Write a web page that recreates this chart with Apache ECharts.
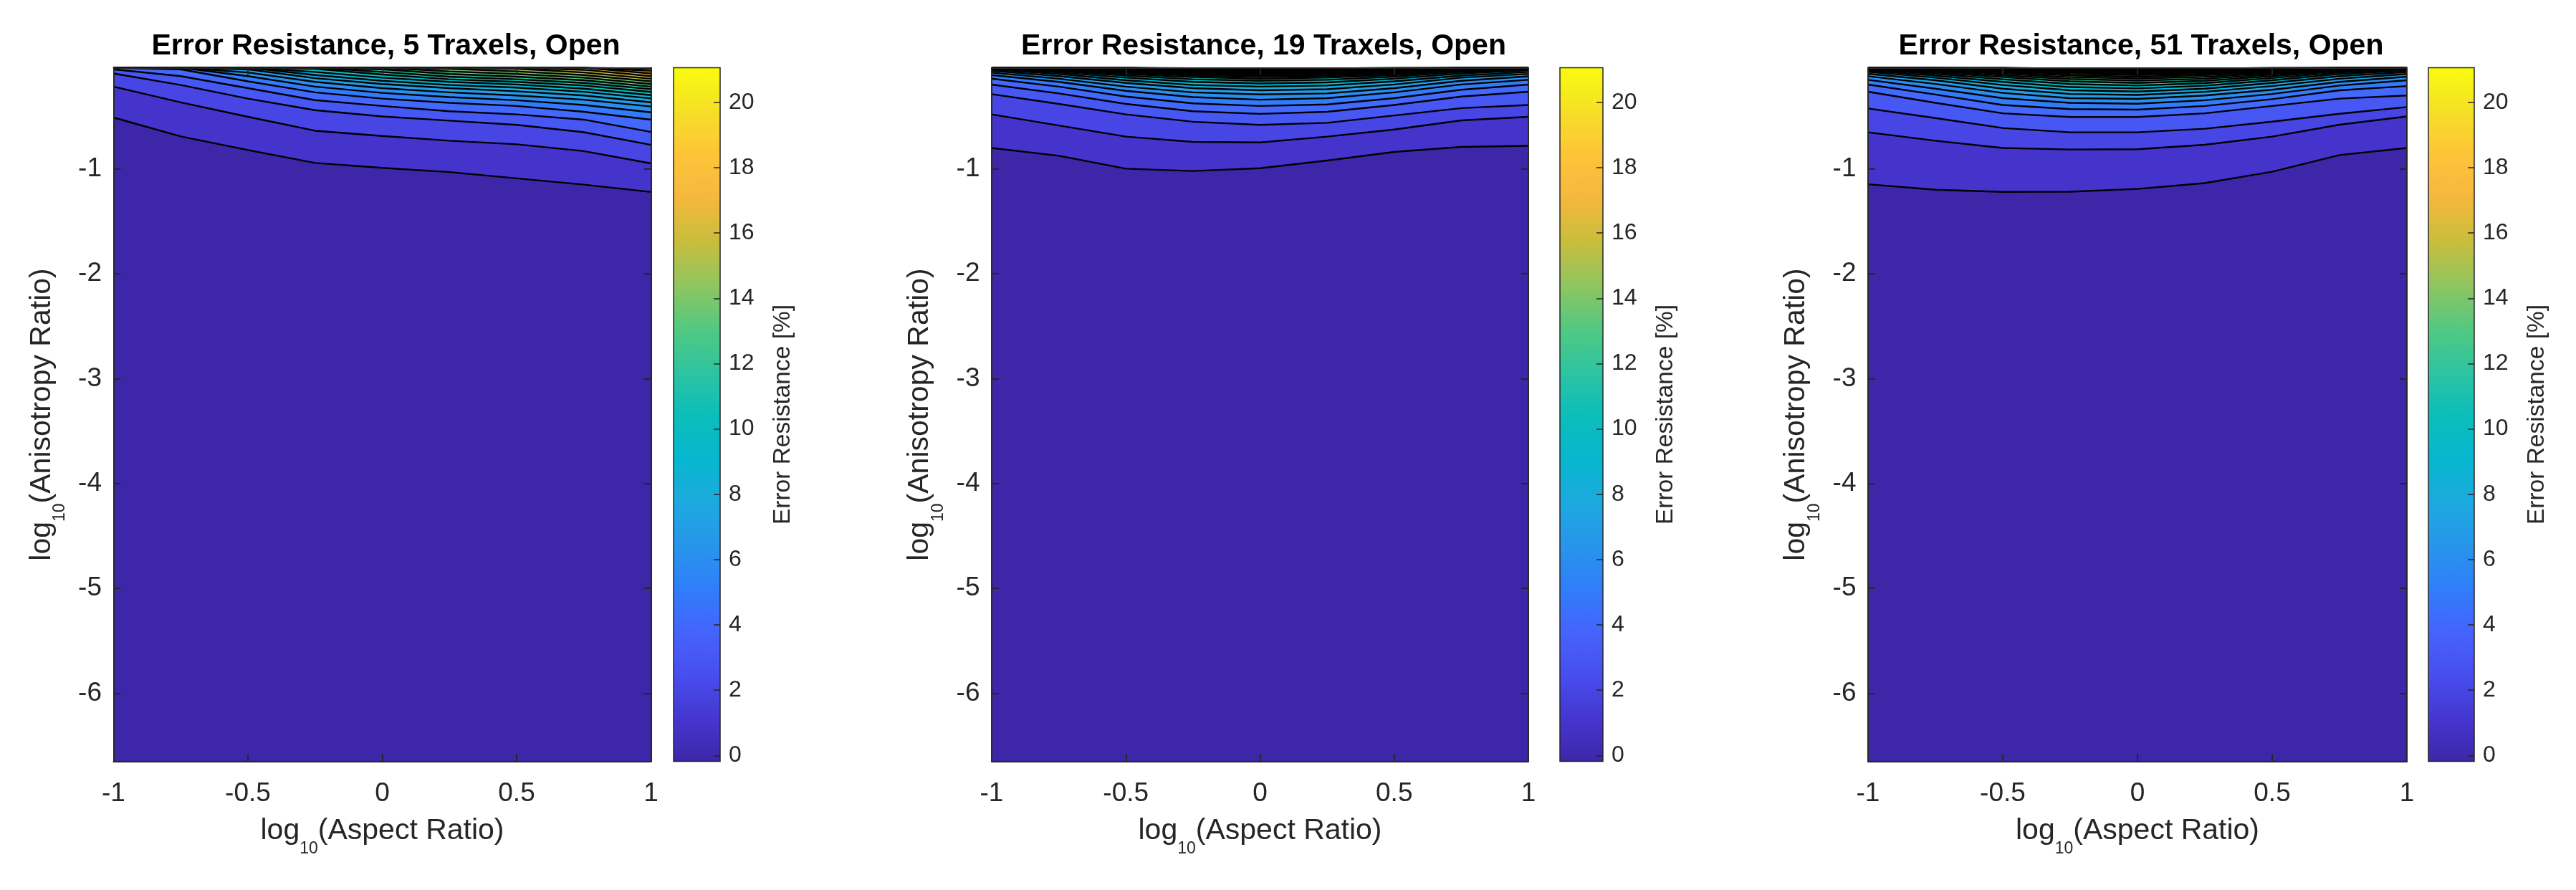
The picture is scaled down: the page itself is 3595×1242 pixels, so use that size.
<!DOCTYPE html>
<html><head><meta charset="utf-8">
<script src="https://cdn.jsdelivr.net/npm/echarts@6/dist/echarts.min.js"></script>
<style>html,body{margin:0;padding:0;background:#fff}#c{width:3595px;height:1242px}</style>
</head><body><div id="c"></div>
<script>
// ---------------- data ----------------
const T = -0.035;                 // top edge of the data range (log10 anisotropy ratio)
const yRange = [-6.65, -0.035];   // y data range
const xRange = [-1, 1];
const xs = [-1, -0.75, -0.5, -0.25, 0, 0.25, 0.5, 0.75, 1];
const levels = [1,2,3,4,5,6,7,8,9,10,11,12,13,14,15,16,17,18,19,20,21];
const xTicks = [-1, -0.5, 0, 0.5, 1];
const yTicks = [-6, -5, -4, -3, -2, -1];
const cbTicks = [0, 2, 4, 6, 8, 10, 12, 14, 16, 18, 20];
const cbRange = [-0.18, 21.06];
const titles = ['Error Resistance, 5 Traxels, Open', 'Error Resistance, 19 Traxels, Open', 'Error Resistance, 51 Traxels, Open'];

// y position of each contour level (rows = levels 1..n) at each xs column
const p1Lines = [
  [-0.51, -0.69, -0.82, -0.943, -0.99, -1.03, -1.09, -1.15, -1.22],
  [-0.215, -0.366, -0.503, -0.636, -0.686, -0.731, -0.765, -0.83, -0.947],
  [-0.09, -0.2, -0.33, -0.44, -0.5, -0.54, -0.58, -0.65, -0.77],
  [-0.05, -0.115, -0.23, -0.344, -0.4, -0.45, -0.48, -0.53, -0.647],
  [T, -0.05, -0.165, -0.27, -0.33, -0.37, -0.4, -0.455, -0.53],
  [T, T, -0.115, -0.215, -0.275, -0.315, -0.345, -0.39, -0.46],
  [T, T, -0.08, -0.17, -0.23, -0.27, -0.3, -0.34, -0.405],
  [T, T, -0.05, -0.135, -0.19, -0.23, -0.26, -0.3, -0.365],
  [T, T, T, -0.105, -0.16, -0.2, -0.225, -0.265, -0.328],
  [T, T, T, -0.075, -0.13, -0.17, -0.195, -0.235, -0.296],
  [T, T, T, -0.045, -0.1, -0.145, -0.17, -0.205, -0.266],
  [T, T, T, T, -0.075, -0.12, -0.145, -0.18, -0.239],
  [T, T, T, T, -0.05, -0.095, -0.12, -0.155, -0.215],
  [T, T, T, T, T, -0.07, -0.095, -0.13, -0.19],
  [T, T, T, T, T, -0.045, -0.07, -0.105, -0.165],
  [T, T, T, T, T, T, -0.045, -0.08, -0.14],
  [T, T, T, T, T, T, T, -0.055, -0.115],
  [T, T, T, T, T, T, T, T, -0.09],
  [T, T, T, T, T, T, T, T, -0.065],
  [T, T, T, T, T, T, T, T, -0.045]
];
const p2Lines = [
  [-0.80, -0.875, -0.998, -1.02, -0.993, -0.92, -0.838, -0.79, -0.78],
  [-0.48, -0.586, -0.692, -0.742, -0.747, -0.692, -0.624, -0.537, -0.503],
  [-0.287, -0.38, -0.48, -0.55, -0.58, -0.56, -0.49, -0.42, -0.39],
  [-0.196, -0.28, -0.38, -0.45, -0.475, -0.455, -0.39, -0.31, -0.264],
  [-0.139, -0.215, -0.31, -0.375, -0.40, -0.385, -0.325, -0.245, -0.196],
  [-0.105, -0.17, -0.255, -0.315, -0.34, -0.325, -0.27, -0.195, -0.15],
  [-0.082, -0.14, -0.215, -0.27, -0.29, -0.28, -0.23, -0.16, -0.117],
  [-0.064, -0.115, -0.18, -0.23, -0.25, -0.24, -0.195, -0.13, -0.094],
  [-0.05, -0.095, -0.155, -0.2, -0.215, -0.205, -0.165, -0.11, -0.075],
  [-0.04, -0.08, -0.13, -0.17, -0.185, -0.175, -0.14, -0.09, -0.06],
  [T, -0.068, -0.11, -0.145, -0.16, -0.15, -0.12, -0.075, -0.05],
  [T, -0.058, -0.095, -0.125, -0.14, -0.13, -0.105, -0.063, -0.042],
  [T, -0.05, -0.082, -0.11, -0.125, -0.115, -0.092, -0.055, T],
  [T, -0.043, -0.072, -0.097, -0.112, -0.103, -0.082, -0.048, T],
  [T, T, -0.063, -0.086, -0.1, -0.092, -0.073, -0.042, T],
  [T, T, -0.055, -0.076, -0.089, -0.082, -0.065, T, T],
  [T, T, -0.048, -0.067, -0.079, -0.073, -0.058, T, T],
  [T, T, -0.042, -0.059, -0.07, -0.065, -0.051, T, T],
  [T, T, T, -0.052, -0.062, -0.057, -0.045, T, T],
  [T, T, T, -0.045, -0.054, -0.05, -0.04, T, T],
  [T, T, T, -0.04, -0.047, -0.044, T, T, T]
];
const p3Lines = [
  [-1.146, -1.198, -1.219, -1.217, -1.191, -1.135, -1.027, -0.868, -0.80],
  [-0.651, -0.731, -0.80, -0.815, -0.812, -0.77, -0.692, -0.578, -0.50],
  [-0.424, -0.515, -0.61, -0.651, -0.651, -0.617, -0.549, -0.474, -0.41],
  [-0.264, -0.37, -0.47, -0.505, -0.505, -0.47, -0.40, -0.33, -0.30],
  [-0.196, -0.29, -0.39, -0.43, -0.435, -0.40, -0.335, -0.25, -0.21],
  [-0.15, -0.235, -0.325, -0.37, -0.378, -0.345, -0.285, -0.205, -0.155],
  [-0.116, -0.19, -0.275, -0.325, -0.332, -0.30, -0.245, -0.17, -0.12],
  [-0.093, -0.155, -0.235, -0.285, -0.295, -0.265, -0.21, -0.14, -0.095],
  [-0.075, -0.13, -0.2, -0.25, -0.262, -0.235, -0.18, -0.115, -0.077],
  [-0.062, -0.11, -0.17, -0.22, -0.232, -0.207, -0.155, -0.095, -0.063],
  [-0.05, -0.093, -0.145, -0.19, -0.205, -0.182, -0.133, -0.08, -0.052],
  [-0.042, -0.08, -0.125, -0.165, -0.18, -0.16, -0.115, -0.067, -0.044],
  [T, -0.068, -0.108, -0.143, -0.158, -0.14, -0.1, -0.057, T],
  [T, -0.058, -0.093, -0.125, -0.138, -0.122, -0.087, -0.049, T],
  [T, -0.05, -0.08, -0.108, -0.12, -0.106, -0.076, -0.042, T],
  [T, -0.043, -0.069, -0.094, -0.105, -0.093, -0.066, T, T],
  [T, T, -0.06, -0.082, -0.092, -0.081, -0.058, T, T],
  [T, T, -0.052, -0.071, -0.08, -0.071, -0.051, T, T],
  [T, T, -0.045, -0.062, -0.069, -0.062, -0.045, T, T],
  [T, T, T, -0.053, -0.059, -0.053, -0.04, T, T],
  [T, T, T, -0.045, -0.05, -0.046, T, T, T]
];

// ---------------- styling ----------------
const FONT = '"Liberation Sans", Arial, Helvetica, sans-serif';
const AX = '#262626';
const PARULA = [
  [0.000, [62, 38, 168]], [0.063, [69, 54, 208]], [0.125, [72, 78, 239]],
  [0.188, [69, 100, 252]], [0.250, [48, 126, 250]], [0.313, [39, 150, 234]],
  [0.375, [28, 170, 223]], [0.438, [6, 183, 207]], [0.500, [12, 190, 186]],
  [0.563, [46, 196, 160]], [0.625, [84, 201, 128]], [0.688, [145, 197, 95]],
  [0.750, [201, 189, 60]], [0.813, [245, 184, 62]], [0.875, [254, 196, 56]],
  [0.938, [245, 224, 38]], [1.000, [249, 251, 14]]
];
function parula(t) {
  t = Math.max(0, Math.min(1, t));
  for (let i = 1; i < PARULA.length; i++) {
    if (t <= PARULA[i][0]) {
      const a = PARULA[i - 1], b = PARULA[i];
      const f = (t - a[0]) / (b[0] - a[0]);
      const c = a[1].map((v, k) => Math.round(v + (b[1][k] - v) * f));
      return 'rgb(' + c.join(',') + ')';
    }
  }
  return 'rgb(249,251,14)';
}
const valT = v => (v - cbRange[0]) / (cbRange[1] - cbRange[0]);

const PLOT_TOP = 94.5, PLOT_BOTTOM = 1062.5;
const panels = [
  { title: titles[0], lines: p1Lines, plot: [158.5, 908.5], cb: [940, 1005] },
  { title: titles[1], lines: p2Lines, plot: [1384, 2133], cb: [2177, 2237] },
  { title: titles[2], lines: p3Lines, plot: [2607, 3359], cb: [3389, 3453] }
];

const richName = {
  a: { fontSize: 41, lineHeight: 74, fontFamily: FONT, color: AX },
  b: { fontSize: 23, lineHeight: 23, verticalAlign: 'bottom', fontFamily: FONT, color: AX }
};

const grid = [], xAxis = [], yAxis = [], series = [], title = [];
panels.forEach((p, pi) => {
  const gi = grid.length;
  grid.push({ left: p.plot[0], top: PLOT_TOP, width: p.plot[1] - p.plot[0], height: PLOT_BOTTOM - PLOT_TOP,
    show: true, borderWidth: 0, backgroundColor: parula(0), containLabel: false, outerBoundsMode: 'none' });
  const xi = xAxis.length;
  const axLine = { show: true, onZero: false, lineStyle: { color: AX, width: 2 } };
  const tick = { show: true, inside: true, length: 10, lineStyle: { color: AX, width: 2 } };
  xAxis.push({
    gridIndex: gi, type: 'value', position: 'bottom', min: xRange[0], max: xRange[1], interval: 0.5, z: 10,
    axisLine: axLine, axisTick: tick, splitLine: { show: false },
    axisLabel: { show: true, margin: 26.5, fontSize: 37, lineHeight: 37, color: AX, fontFamily: FONT, showMinLabel: true, showMaxLabel: true,
      customValues: xTicks },
    name: '{a|log}{b|10}{a|(Aspect Ratio)}', nameLocation: 'middle', nameGap: 60, nameMoveOverlap: false,
    nameTextStyle: { rich: richName }
  });
  xAxis.push({
    gridIndex: gi, type: 'value', position: 'top', min: xRange[0], max: xRange[1], interval: 0.5, z: 10,
    axisLine: axLine, axisTick: tick, splitLine: { show: false }, axisLabel: { show: false }
  });
  const yi = yAxis.length;
  yAxis.push({
    gridIndex: gi, type: 'value', position: 'left', min: yRange[0], max: yRange[1], z: 10,
    axisLine: axLine, axisTick: Object.assign({}, tick, { customValues: yTicks }), splitLine: { show: false },
    axisLabel: { show: true, margin: 16.5, fontSize: 37, color: AX, fontFamily: FONT, customValues: yTicks },
    name: '{a|log}{b|10}{a|(Anisotropy Ratio)}', nameLocation: 'middle', nameGap: 63, nameMoveOverlap: false,
    nameTextStyle: { rich: richName }
  });
  yAxis.push({
    gridIndex: gi, type: 'value', position: 'right', min: yRange[0], max: yRange[1], z: 10,
    axisLine: axLine, axisTick: Object.assign({}, tick, { customValues: yTicks }), splitLine: { show: false },
    axisLabel: { show: false, customValues: yTicks }
  });
  // filled bands: area from each contour line up to the top of the plot
  p.lines.forEach((row, k) => {
    series.push({
      type: 'line', xAxisIndex: xi, yAxisIndex: yi, data: xs.map((x, j) => [x, row[j]]),
      symbol: 'none', showSymbol: false, silent: true, animation: false, z: 2,
      lineStyle: { width: 0, opacity: 0 },
      areaStyle: { origin: 'end', color: parula(valT(levels[k])), opacity: 1 }
    });
  });
  // contour lines
  p.lines.forEach((row, k) => {
    series.push({
      type: 'line', xAxisIndex: xi, yAxisIndex: yi, data: xs.map((x, j) => [x, row[j]]),
      symbol: 'none', showSymbol: false, silent: true, animation: false, z: 3,
      lineStyle: { width: 2.4, color: '#000' }
    });
  });
  // colorbar
  const cg = grid.length;
  grid.push({ left: p.cb[0], top: PLOT_TOP, width: p.cb[1] - p.cb[0], height: PLOT_BOTTOM - PLOT_TOP, show: false, containLabel: false, outerBoundsMode: 'none' });
  const cx = xAxis.length;
  xAxis.push({ gridIndex: cg, type: 'value', min: 0, max: 1, show: false });
  const cy = yAxis.length;
  yAxis.push({
    gridIndex: cg, type: 'value', position: 'right', min: cbRange[0], max: cbRange[1], z: 10,
    axisLine: { show: false, onZero: false },
    axisTick: { show: true, inside: true, length: 9, lineStyle: { color: AX, width: 1.5 }, customValues: cbTicks },
    axisLabel: { show: true, margin: 12, fontSize: 32, color: AX, fontFamily: FONT, customValues: cbTicks },
    splitLine: { show: false },
    name: 'Error Resistance [%]', nameLocation: 'middle', nameGap: 71, nameMoveOverlap: false,
    nameTextStyle: { fontSize: 33.5, lineHeight: 34, color: AX, fontFamily: FONT }
  });
  const stops = [];
  for (let i = 0; i <= 64; i++) stops.push({ offset: i / 64, color: parula(i / 64) });
  series.push({
    type: 'custom', xAxisIndex: cx, yAxisIndex: cy, silent: true, animation: false, z: 2, clip: false,
    data: [[0, cbRange[0], 1, cbRange[1]]],
    renderItem: function (params, api) {
      const a = api.coord([api.value(0), api.value(1)]);
      const b = api.coord([api.value(2), api.value(3)]);
      return {
        type: 'rect',
        shape: { x: a[0], y: b[1], width: b[0] - a[0], height: a[1] - b[1] },
        style: { fill: new echarts.graphic.LinearGradient(0, 1, 0, 0, stops), stroke: AX, lineWidth: 1.5 }
      };
    }
  });
  title.push({
    text: p.title, left: (p.plot[0] + p.plot[1]) / 2, top: 39, textAlign: 'center',
    textStyle: { fontSize: 41, fontWeight: 'bold', color: '#000', fontFamily: FONT }
  });
});

const chart = echarts.init(document.getElementById('c'), null, { renderer: 'canvas' });
chart.setOption({ animation: false, backgroundColor: '#fff', title, grid, xAxis, yAxis, series });
</script>
</body></html>
